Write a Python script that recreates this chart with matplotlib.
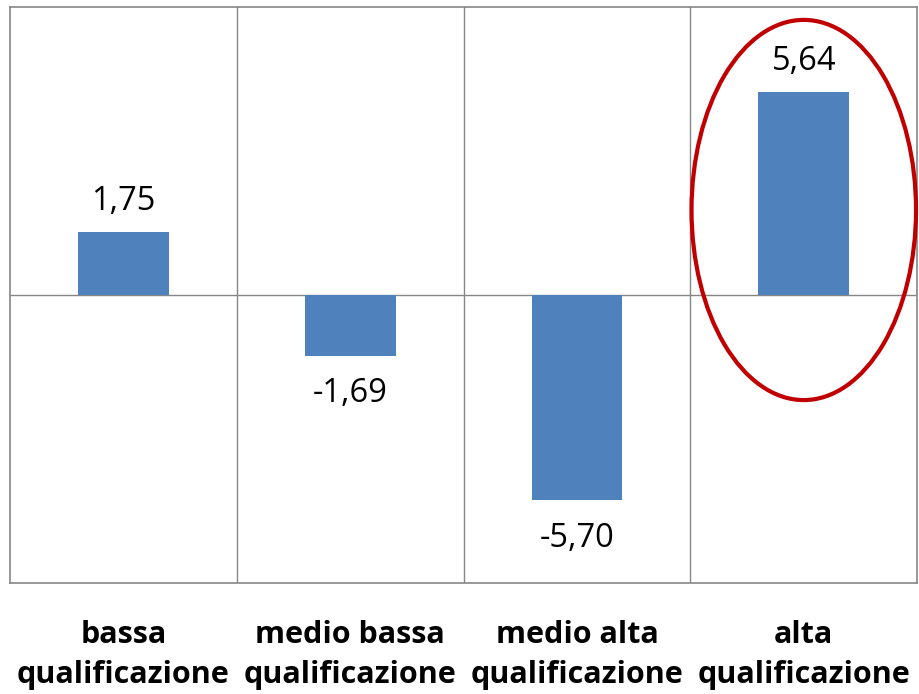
import matplotlib
matplotlib.use("Agg")
import matplotlib.pyplot as plt
from matplotlib.patches import Ellipse

categorie = ["bassa\nqualificazione", "medio bassa\nqualificazione",
             "medio alta\nqualificazione", "alta\nqualificazione"]
valori = [1.75, -1.69, -5.70, 5.64]
etichette = ["1,75", "-1,69", "-5,70", "5,64"]

plt.rcParams['font.family'] = ['Open Sans', 'DejaVu Sans']

fig = plt.figure(figsize=(9.19, 6.94), dpi=100)
ax = fig.add_axes([0.011, 0.160, 0.987, 0.830])

x = list(range(len(valori)))
ax.bar(x, valori, width=0.4, color="#4F81BD", zorder=3)

for xi, v, lab in zip(x, valori, etichette):
    if v >= 0:
        ax.text(xi, v + 0.38, lab, ha="center", va="bottom", fontsize=23.5)
    else:
        ax.text(xi, v - 0.6, lab, ha="center", va="top", fontsize=23.5)

ax.set_xlim(-0.5, 3.5)
ax.set_ylim(-8, 8)
ax.axhline(0, color="#868686", lw=1, zorder=2)
for b in [0.5, 1.5, 2.5]:
    ax.axvline(b, color="#868686", lw=1, zorder=1)
for s in ax.spines.values():
    s.set_color("#868686")
    s.set_linewidth(1.2)

ax.set_xticks(x)
ax.set_xticklabels(categorie, fontsize=22, fontweight="bold", linespacing=1.42)
ax.tick_params(axis="x", length=0, pad=27)
ax.set_yticks([])

ell = Ellipse((3.0, 2.36), 0.99, 10.56, fill=False, edgecolor="#C00000", lw=3, zorder=4, clip_on=False)
ax.add_patch(ell)

fig.savefig("out.png", dpi=100)
